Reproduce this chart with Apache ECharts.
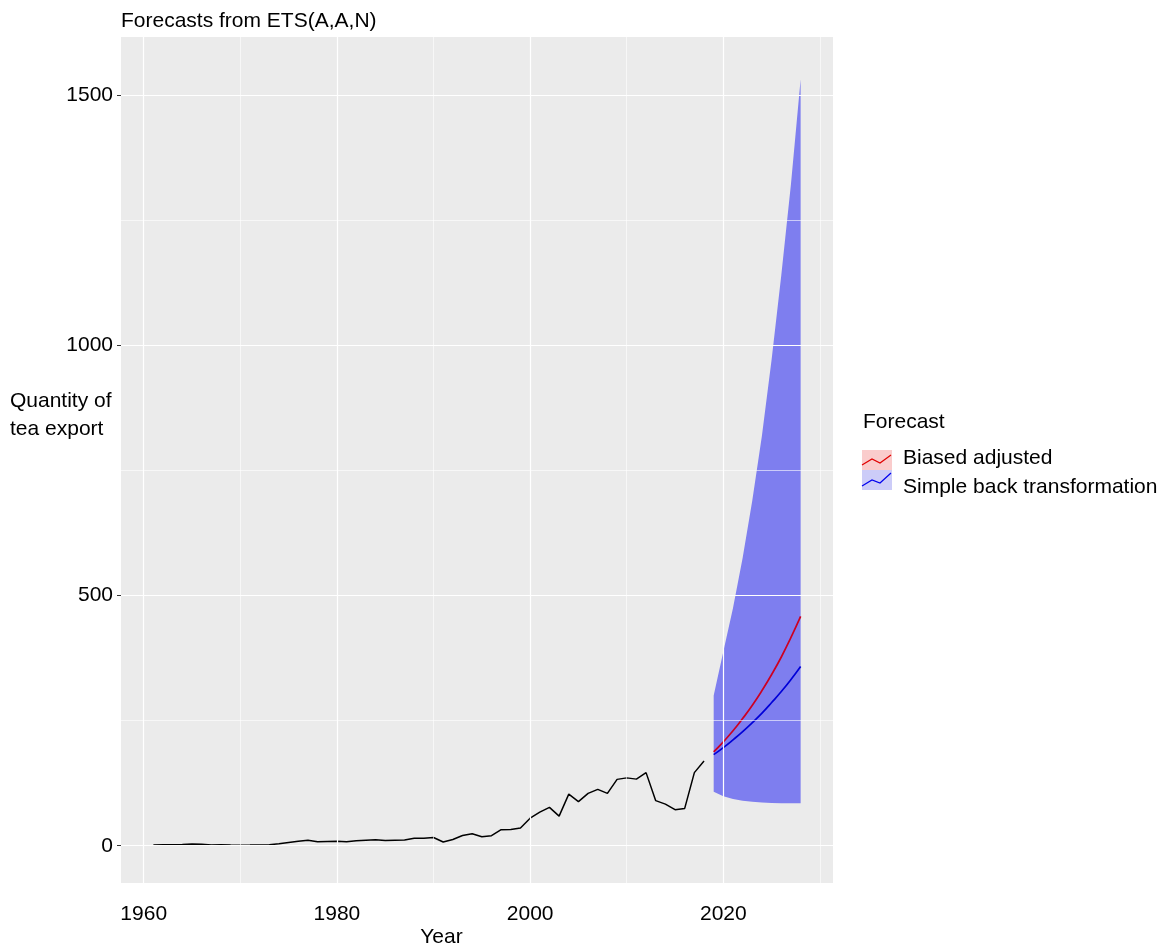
<!DOCTYPE html>
<html>
<head>
<meta charset="utf-8">
<title>Forecasts from ETS(A,A,N)</title>
<script src="https://cdn.jsdelivr.net/npm/echarts@6/dist/echarts.min.js"></script>
<style>
  html, body { margin: 0; padding: 0; background: #ffffff; }
  #chart { width: 1163px; height: 945px; }
</style>
</head>
<body>
<div id="chart"></div>
<script>
// Annual quantity of tea export, 1961-2018
const firstYear = 1961;
const exportQty = [
  1.5, 1.8, 2.0, 2.5, 3.5, 3.0, 1.5, 1.8, 1.2, 1.0,
  1.2, 1.5, 2.0, 4.0, 6.5, 9.0, 11.0, 8.0, 8.5, 9.0,
  8.0, 10.0, 11.0, 12.0, 10.5, 11.0, 11.5, 15.0, 15.0, 16.5,
  7.5, 12.5, 20.5, 24, 18, 20, 32, 32.5, 35.5, 55,
  67, 76.5, 59, 103, 88, 104.5, 112.5, 104.5, 132.5, 135.5,
  133, 146, 90, 83, 72, 74.5, 146, 169
];

// ETS(A,A,N) forecasts, 2019-2028
const fcFirstYear = 2019;
const fcBiasAdjusted = [187.5, 207.5, 229.5, 254, 280.5, 310, 342, 377, 416, 458];
const fcSimpleBack   = [182, 196, 211.5, 228, 246, 265, 286, 308, 332, 358];
const fcLower        = [107.7, 99, 93.5, 90, 88, 86.5, 85.5, 85, 84.7, 84.6];
const fcUpper        = [300, 388, 475, 575, 690, 820, 972, 1140, 1322, 1531];

// Axis ticks
const xMajor = [1960, 1980, 2000, 2020];
const xMinor = [1970, 1990, 2010, 2030];
const yMajor = [0, 500, 1000, 1500];
const yMinor = [250, 750, 1250];

const histData = exportQty.map((v, i) => [firstYear + i, v]);
const fcYears = fcBiasAdjusted.map((_, i) => fcFirstYear + i);
const biasData = fcBiasAdjusted.map((v, i) => [fcYears[i], v]);
const simpleData = fcSimpleBack.map((v, i) => [fcYears[i], v]);
const bandData = fcLower.map((v, i) => [fcYears[i], v, fcUpper[i]]);

const FONT = 'Liberation Sans, Arial, Helvetica, sans-serif';
const TXT = 21;

const gridLines = [].concat(
  xMinor.map(v => ({ xAxis: v, lineStyle: { width: 0.6 } })),
  yMinor.map(v => ({ yAxis: v, lineStyle: { width: 0.6 } })),
  xMajor.map(v => ({ xAxis: v, lineStyle: { width: 1.2 } })),
  yMajor.map(v => ({ yAxis: v, lineStyle: { width: 1.2 } }))
);

const chart = echarts.init(document.getElementById('chart'), null, { renderer: 'canvas' });

const option = {
  animation: false,
  backgroundColor: '#ffffff',
  title: {
    text: 'Forecasts from ETS(A,A,N)',
    left: 121,
    top: 11,
    padding: 0,
    textStyle: { fontFamily: FONT, fontSize: TXT, fontWeight: 'normal', color: '#000' }
  },
  grid: {
    left: 121, right: 330, top: 37, bottom: 62,
    show: true, backgroundColor: '#EBEBEB', borderWidth: 0
  },
  xAxis: {
    type: 'value',
    min: 1957.65,
    max: 2031.35,
    axisLine: { show: false },
    splitLine: { show: false },
    axisTick: { show: true, length: 4, lineStyle: { color: '#333', width: 1 }, customValues: xMajor },
    axisLabel: {
      customValues: xMajor, margin: 21, color: '#000', fontFamily: FONT, fontSize: TXT,
      formatter: v => String(v)
    }
  },
  yAxis: {
    type: 'value',
    min: -74.5,
    max: 1615.5,
    axisLine: { show: false },
    splitLine: { show: false },
    axisTick: { show: true, length: 4, lineStyle: { color: '#333', width: 1 }, customValues: yMajor },
    axisLabel: {
      customValues: yMajor, margin: 8, color: '#000', fontFamily: FONT, fontSize: TXT,
      formatter: v => String(v)
    }
  },
  graphic: [
    {
      type: 'text', left: 10, top: 387,
      style: { text: 'Quantity of\ntea export', font: TXT + 'px ' + FONT, fill: '#000', lineHeight: 28 }
    },
    {
      type: 'text', x: 441.5, y: 937,
      style: { text: 'Year', font: TXT + 'px ' + FONT, fill: '#000', align: 'center', verticalAlign: 'middle' }
    },
    {
      type: 'group', x: 862, y: 0,
      children: [
        { type: 'text', x: 1, y: 422, style: { text: 'Forecast', font: TXT + 'px ' + FONT, fill: '#000', verticalAlign: 'middle' } },
        { type: 'rect', shape: { x: 0, y: 450, width: 30, height: 20 }, style: { fill: '#FACCCC' } },
        { type: 'rect', shape: { x: 0, y: 470, width: 30, height: 20 }, style: { fill: '#CCCCF8' } },
        { type: 'polyline', shape: { points: [[0, 465], [10, 459], [18, 463], [29, 455]] }, style: { stroke: '#E00000', lineWidth: 1.2, fill: null } },
        { type: 'polyline', shape: { points: [[0, 486], [10, 480], [18, 483], [29, 473]] }, style: { stroke: '#0000EE', lineWidth: 1.2, fill: null } },
        { type: 'text', x: 41, y: 458, style: { text: 'Biased adjusted', font: TXT + 'px ' + FONT, fill: '#000', verticalAlign: 'middle' } },
        { type: 'text', x: 41, y: 487, style: { text: 'Simple back transformation', font: TXT + 'px ' + FONT, fill: '#000', verticalAlign: 'middle' } }
      ]
    }
  ],
  series: [
    {
      name: 'grid',
      type: 'line',
      data: [],
      z: 1,
      silent: true,
      markLine: {
        silent: true,
        symbol: 'none',
        label: { show: false },
        lineStyle: { color: '#ffffff', type: 'solid' },
        emphasis: { disabled: true },
        data: gridLines
      }
    },
    {
      name: 'interval',
      type: 'custom',
      z: 2,
      silent: true,
      data: bandData,
      encode: { x: 0, y: [1, 2] },
      renderItem: function (params, api) {
        if (params.dataIndex !== 0) return null;
        const upper = bandData.map(d => api.coord([d[0], d[2]]));
        const lower = bandData.map(d => api.coord([d[0], d[1]])).reverse();
        return {
          type: 'polygon',
          shape: { points: upper.concat(lower) },
          style: { fill: '#7E7EEF' }
        };
      }
    },
    {
      name: 'Quantity of tea export',
      type: 'line',
      z: 3,
      data: histData,
      symbol: 'none',
      lineStyle: { color: '#000000', width: 1.5 }
    },
    {
      name: 'Biased adjusted',
      type: 'line',
      z: 4,
      data: biasData,
      symbol: 'none',
      smooth: true,
      lineStyle: { color: '#CC0022', width: 1.7 }
    },
    {
      name: 'Simple back transformation',
      type: 'line',
      z: 4,
      data: simpleData,
      symbol: 'none',
      smooth: true,
      lineStyle: { color: '#0000D8', width: 1.7 }
    }
  ]
};

chart.setOption(option);
</script>
</body>
</html>
